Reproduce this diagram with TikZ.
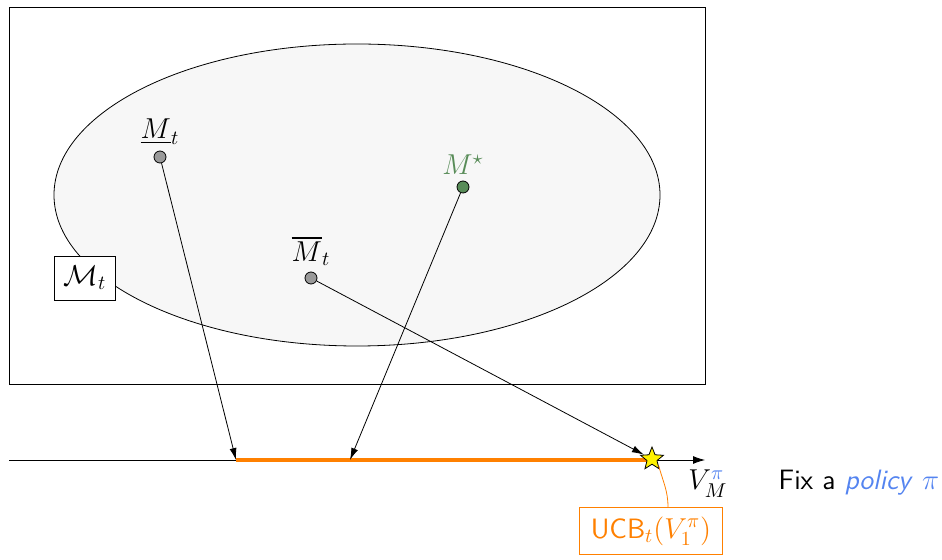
\documentclass[tikz,border=0pt,11pt]{standalone}
\usepackage{amsmath,amssymb}
\usepackage{tikz}
\usetikzlibrary{arrows.meta, positioning, shapes.geometric}

\definecolor{mgreen}{RGB}{88,140,88}
\definecolor{pblue}{RGB}{84,132,240}
\definecolor{ucborange}{RGB}{255,128,0}

\begin{document}
\begin{tikzpicture}[x=0.5pt, y=-0.5pt, font=\fontsize{14}{17}\selectfont\sffamily,
  pt/.style={circle, draw, inner sep=0pt, minimum size=6pt},
  maparrow/.style={-{Latex[length=6pt, width=3.5pt]}, thin}]

\useasboundingbox (0,0) rectangle (942,560);

% --- Model space and confidence set ---
\draw (9,7) rectangle (705,384);
\draw[fill=black!3] (357,195) ellipse [x radius=303, y radius=151];
\node[draw, fill=white, inner xsep=4.5pt, inner ysep=5pt] (cset) at (85,278) {$\mathcal{M}_t$};

% --- Models ---
\node[pt, fill=black!40] (mlow) at (160,157) {};
\node[above=-1pt of mlow] {$\underline{M}_t$};

\node[pt, fill=mgreen] (mstar) at (463,187) {};
\node[above=-1pt of mstar, text=mgreen] {$M^\star$};

\node[pt, fill=black!40] (mup) at (311,278) {};
\node[above=-1pt of mup] {$\overline{M}_t$};

% --- Value axis ---
\coordinate (axstart) at (9,460);
\coordinate (axend) at (705,460);
\coordinate (vlow) at (236,460);
\coordinate (vstar) at (350,460);
\draw[-{Latex[length=6pt, width=4pt]}] (axstart) -- (axend);
\draw[ucborange, line width=1.6pt] (vlow) -- (652,460);
\node[star, star points=5, star point ratio=2.3, draw, fill=yellow,
      inner sep=0pt, minimum size=12pt] (vtop) at (652,459) {};
\node (vlab) at (708,484) {$V_M^{\textcolor{pblue}{\pi}}$};

% --- Evaluation arrows ---
\draw[maparrow] (mlow) -- (vlow);
\draw[maparrow] (mstar) -- (vstar);
\draw[maparrow] (mup) -- (vtop);

% --- Optimistic value ---
\node[draw=ucborange, text=ucborange, inner xsep=5.5pt, inner ysep=4.5pt] (ucb) at (651,531)
  {UCB$_t(V_1^\pi)$};
\draw[ucborange] ([xshift=8.5pt]ucb.north) to[out=90, in=-75] (vtop.south east);

% Side note
\node[anchor=west] (note) at (771,483)
  {Fix a \textcolor{pblue}{\textit{policy} $\pi$}};

\end{tikzpicture}
\end{document}
